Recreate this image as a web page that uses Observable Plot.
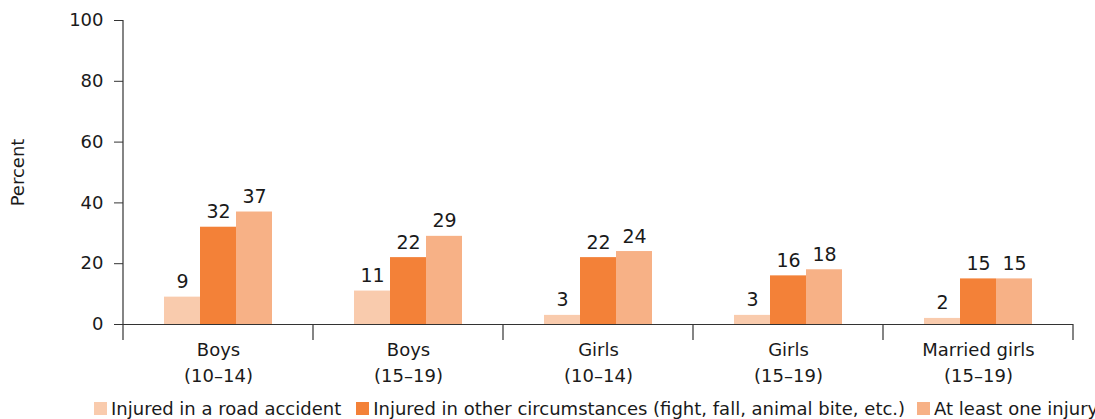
<!DOCTYPE html>
<html>
<head>
<meta charset="utf-8">
<script src="https://cdn.jsdelivr.net/npm/d3@7"></script>
<script src="https://cdn.jsdelivr.net/npm/@observablehq/plot@0.6"></script>
<style>
  html, body { margin: 0; padding: 0; background: #fff; overflow: hidden; }
  body { width: 1095px; height: 419px; font-family: "DejaVu Sans", sans-serif; color: #1a1a1a; }
  #chart svg { display: block; }
  .legend { display: flex; white-space: nowrap; align-items: center; margin-left: 94px; font-size: 18px; line-height: 21px; height: 21px; }
  .legend .item { display: flex; align-items: center; margin-right: 15px; flex: none; }
  .legend .sw { width: 13px; height: 13px; margin-right: 4px; flex: none; }
</style>
</head>
<body>
<div id="chart"></div>
<div class="legend" id="legend"></div>
<script>
const groupNames = ["Boys", "Boys", "Girls", "Girls", "Married girls"];
const ageRanges = ["(10–14)", "(15–19)", "(10–14)", "(15–19)", "(15–19)"];
const seriesNames = [
  "Injured in a road accident",
  "Injured in other circumstances (fight, fall, animal bite, etc.)",
  "At least one injury"
];
const roadAccident = [9, 11, 3, 3, 2];
const otherCircumstances = [32, 22, 22, 16, 15];
const atLeastOne = [37, 29, 24, 18, 15];
const seriesColors = ["#F9CBAD", "#F38138", "#F7B186"];
const yTicks = [0, 20, 40, 60, 80, 100];

const groups = groupNames.map((n, i) => `${n}\n${ageRanges[i]}`);
const seriesValues = [roadAccident, otherCircumstances, atLeastOne];
const data = [];
groups.forEach((g, gi) => {
  seriesNames.forEach((s, si) => {
    data.push({group: g, series: s, value: seriesValues[si][gi]});
  });
});

const plot = Plot.plot({
  width: 1095,
  height: 398,
  marginLeft: 123,
  marginRight: 22,
  marginTop: 20,
  marginBottom: 74,
  style: {fontFamily: "DejaVu Sans, sans-serif", fontSize: "18px", color: "#1a1a1a", background: "#fff"},
  fx: {domain: groups, padding: 0, axis: null},
  x: {domain: seriesNames, paddingInner: 0, paddingOuter: 1.07, axis: null},
  y: {domain: [0, 100], axis: null},
  color: {domain: seriesNames, range: seriesColors},
  marks: [
    Plot.barY(data, {fx: "group", x: "series", y: "value", fill: "series"}),
    Plot.text(data, {fx: "group", x: "series", y: "value", text: d => String(d.value), dy: -9, lineAnchor: "bottom", fontSize: 19, fill: "#1a1a1a"}),
    Plot.ruleY([0], {stroke: "#333", strokeWidth: 1.2}),
    Plot.axisY({ticks: yTicks, tickSize: 9, tickPadding: 11, label: "Percent", labelAnchor: "center", labelArrow: false, labelOffset: 112, fontSize: 18, stroke: "#333"}),
    Plot.axisFx({anchor: "bottom", tickSize: 0, tickPadding: 14, label: null, fontSize: 18, lineHeight: 1.4})
  ]
});

// axis line and group separators, positioned from the plot's own scales
const fx = plot.scale("fx");
const y = plot.scale("y");
const svg = d3.select(plot);
const y0 = y.apply(0);
const y100 = y.apply(100);
const ext = 16;
const lines = svg.append("g").attr("stroke", "#333").attr("stroke-width", 1.2);
const left = fx.apply(groups[0]);
lines.append("line").attr("x1", left).attr("x2", left).attr("y1", y100).attr("y2", y0 + ext);
const bounds = groups.slice(1).map(g => fx.apply(g));
bounds.push(fx.apply(groups[groups.length - 1]) + fx.bandwidth);
bounds.forEach(bx => {
  lines.append("line").attr("x1", bx).attr("x2", bx).attr("y1", y0).attr("y2", y0 + ext);
});

document.getElementById("chart").appendChild(plot);

const legend = document.getElementById("legend");
seriesNames.forEach((s, i) => {
  const item = document.createElement("div");
  item.className = "item";
  if (i === 1) item.style.marginRight = "12px";
  const sw = document.createElement("span");
  sw.className = "sw";
  sw.style.background = seriesColors[i];
  const t = document.createElement("span");
  t.textContent = s;
  item.appendChild(sw);
  item.appendChild(t);
  legend.appendChild(item);
});
</script>
</body>
</html>
